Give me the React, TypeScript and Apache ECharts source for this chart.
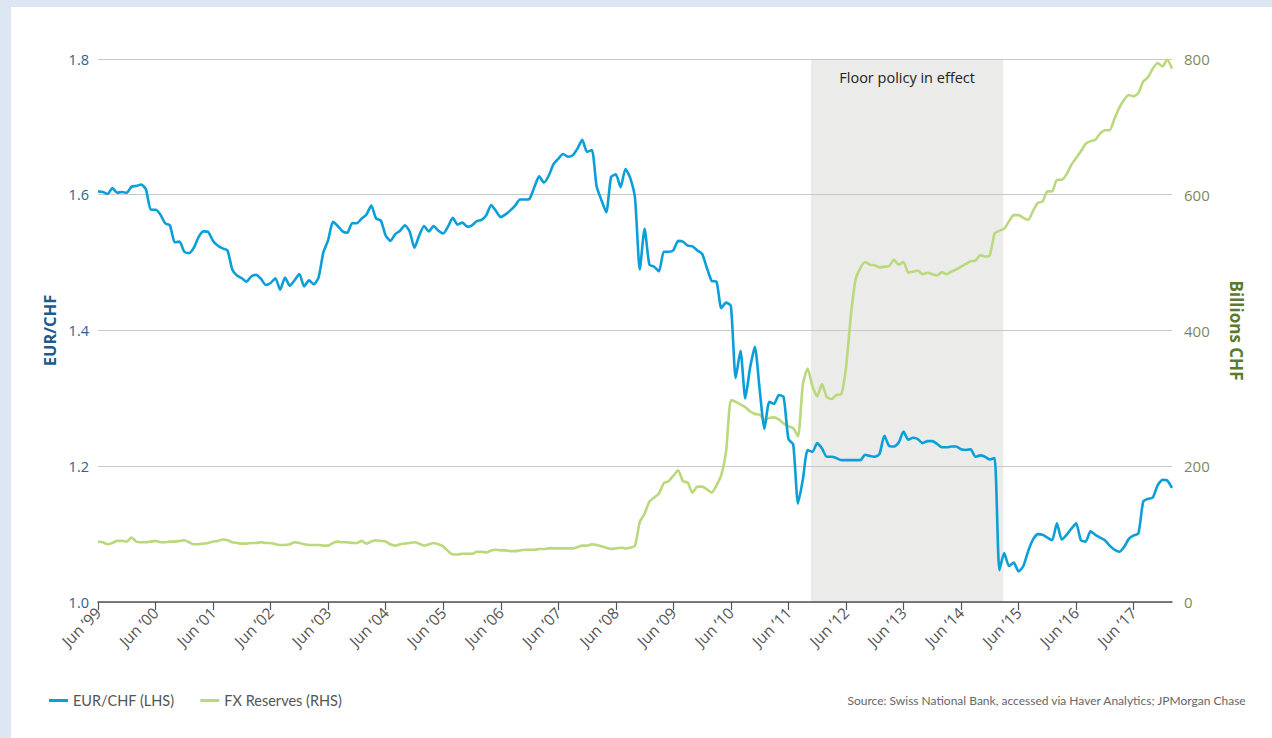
import React, { useEffect, useRef } from "react";
import * as echarts from "echarts";

// Month index 0 = Jun 1999, 224 = Jan 2018 (monthly)
const startYear = 1999;
const tickMonths = [0, 12, 24, 36, 48, 60, 72, 84, 96, 108, 120, 132, 144, 156, 168, 180, 192, 204, 216];

const eurChf = [
  1.605, 1.604, 1.601, 1.610, 1.603, 1.604, 1.603, 1.612, 1.613, 1.615,
  1.608, 1.578, 1.578, 1.571, 1.558, 1.555, 1.530, 1.531, 1.516, 1.514,
  1.522, 1.538, 1.546, 1.545, 1.532, 1.525, 1.521, 1.518, 1.490, 1.481,
  1.477, 1.472, 1.480, 1.482, 1.476, 1.467, 1.470, 1.477, 1.460, 1.478,
  1.466, 1.474, 1.483, 1.465, 1.474, 1.468, 1.478, 1.515, 1.533, 1.560,
  1.554, 1.546, 1.544, 1.558, 1.558, 1.565, 1.571, 1.584, 1.565, 1.562,
  1.540, 1.532, 1.542, 1.547, 1.555, 1.546, 1.522, 1.540, 1.554, 1.546,
  1.554, 1.547, 1.543, 1.553, 1.566, 1.556, 1.559, 1.553, 1.555, 1.561,
  1.563, 1.570, 1.585, 1.576, 1.567, 1.571, 1.577, 1.584, 1.593, 1.593,
  1.594, 1.611, 1.627, 1.618, 1.628, 1.645, 1.653, 1.660, 1.656, 1.658,
  1.668, 1.681, 1.663, 1.666, 1.612, 1.592, 1.574, 1.626, 1.630, 1.611,
  1.638, 1.625, 1.595, 1.490, 1.550, 1.497, 1.494, 1.487, 1.516, 1.516,
  1.518, 1.532, 1.531, 1.525, 1.524, 1.518, 1.513, 1.492, 1.473, 1.472,
  1.433, 1.441, 1.436, 1.330, 1.370, 1.300, 1.345, 1.376, 1.313, 1.255,
  1.295, 1.292, 1.305, 1.302, 1.240, 1.232, 1.145, 1.180, 1.224, 1.221,
  1.234, 1.226, 1.214, 1.214, 1.212, 1.209, 1.209, 1.209, 1.209, 1.209,
  1.217, 1.215, 1.214, 1.218, 1.245, 1.230, 1.229, 1.235, 1.251, 1.239,
  1.242, 1.240, 1.234, 1.237, 1.237, 1.233, 1.228, 1.228, 1.229, 1.229,
  1.225, 1.224, 1.225, 1.214, 1.216, 1.214, 1.210, 1.212, 1.047, 1.072,
  1.053, 1.058, 1.045, 1.053, 1.075, 1.092, 1.100, 1.099, 1.095, 1.091,
  1.116, 1.092, 1.099, 1.108, 1.116, 1.091, 1.089, 1.104, 1.099, 1.095,
  1.091, 1.083, 1.077, 1.074, 1.081, 1.093, 1.098, 1.101, 1.148, 1.152,
  1.154, 1.172, 1.180, 1.179, 1.168,
];

const fxReserves = [
  89, 88, 85, 87, 90, 90, 89, 95, 89, 88,
  88, 89, 90, 88, 88, 89, 89, 90, 91, 88,
  85, 85, 86, 87, 89, 90, 92, 91, 88, 87,
  86, 86, 87, 87, 88, 87, 87, 85, 84, 84,
  85, 88, 87, 85, 84, 84, 84, 83, 83, 87,
  89, 88, 88, 87, 87, 90, 86, 89, 91, 90,
  89, 85, 83, 85, 86, 87, 88, 86, 83, 85,
  87, 85, 82, 75, 70, 70, 71, 71, 71, 74,
  74, 73, 76, 77, 76, 76, 75, 75, 76, 77,
  77, 77, 78, 78, 79, 79, 79, 79, 79, 79,
  81, 83, 83, 85, 84, 82, 80, 78, 79, 80,
  79, 80, 83, 118, 130, 148, 154, 160, 175, 178,
  186, 194, 178, 176, 161, 170, 170, 166, 161, 172,
  187, 222, 297, 295, 291, 287, 281, 277, 276, 268,
  271, 272, 269, 263, 259, 256, 244, 320, 344, 318,
  303, 321, 302, 299, 305, 306, 345, 420, 475, 492,
  501, 497, 496, 493, 494, 495, 504, 497, 501, 485,
  487, 488, 483, 485, 483, 481, 486, 483, 487, 490,
  494, 498, 502, 503, 511, 509, 511, 543, 547, 550,
  561, 570, 570, 566, 563, 576, 588, 590, 605, 605,
  622, 622, 630, 644, 654, 664, 675, 679, 681, 690,
  695, 695, 712, 728, 740, 747, 745, 750, 767, 773,
  786, 794, 789, 799, 786,
];

const floorStart = 148.7; // Sep 2011
const floorEnd = 188.8; // Jan 2015

const BLUE = "#0a9fd9";
const GREEN = "#bad87c";
const FONT = "Lato, 'Open Sans', sans-serif";
const FONT2 = "'Open Sans', Lato, sans-serif";

export default function App() {
  const ref = useRef<HTMLDivElement>(null);

  useEffect(() => {
    if (!ref.current) return;
    const chart = echarts.init(ref.current, null, { renderer: "svg" });
    const blueData = eurChf.map((v, i) => [i, v]);
    const greenData = fxReserves.map((v, i) => [i, v]);

    chart.setOption({
      animation: false,
      backgroundColor: "transparent",
      textStyle: { fontFamily: FONT },
      grid: { left: 98, right: 100, top: 59, bottom: 136, containLabel: false },
      legend: {
        left: 44,
        top: 688,
        itemWidth: 19,
        itemHeight: 3,
        itemGap: 26,
        icon: "rect",
        textStyle: { color: "#555", fontSize: 14.5, fontFamily: FONT },
        data: [
          { name: "EUR/CHF (LHS)", itemStyle: { color: BLUE } },
          { name: "FX Reserves (RHS)", itemStyle: { color: GREEN } },
        ],
      },
      xAxis: {
        type: "value",
        min: 0,
        max: 224,
        interval: 12,
        splitLine: { show: false },
        axisLine: { show: true, lineStyle: { color: "#555", width: 1.5 } },
        axisTick: {
          show: true,
          length: 8,
          lineStyle: { color: "#555", width: 1.2 },
          customValues: tickMonths,
        },
        axisLabel: {
          rotate: 45,
          color: "#555",
          fontSize: 15.5,
          fontFamily: FONT2,
          margin: 8,
          customValues: tickMonths,
          formatter: (v: number) => {
            const y = startYear + Math.round(v / 12);
            return "Jun \u2019" + String(y % 100).padStart(2, "0");
          },
        },
      },
      yAxis: [
        {
          type: "value",
          min: 1.0,
          max: 1.8,
          interval: 0.2,
          position: "left",
          name: "EUR/CHF",
          nameLocation: "middle",
          nameGap: 40,
          nameRotate: 90,
          nameTextStyle: { color: "#1d5a8f", fontSize: 16.5, fontWeight: "bold", fontFamily: FONT2 },
          axisLine: { show: false },
          axisTick: { show: false },
          axisLabel: {
            color: "#2b6296",
            fontSize: 14.5,
            fontFamily: FONT2,
            margin: 9,
            formatter: (v: number) => v.toFixed(1),
          },
          splitLine: { show: true, lineStyle: { color: "#c9c9c9", width: 1.2 } },
        },
        {
          type: "value",
          min: 0,
          max: 800,
          interval: 200,
          position: "right",
          name: "Billions CHF",
          nameLocation: "middle",
          nameGap: 56,
          nameRotate: -90,
          nameTextStyle: { color: "#5b7a2e", fontSize: 17, fontWeight: "bold", fontFamily: FONT2 },
          axisLine: { show: false },
          axisTick: { show: false },
          axisLabel: { color: "#7a8b5a", fontSize: 15, fontFamily: FONT2, margin: 12 },
          splitLine: { show: false },
        },
      ],
      graphic: [
        {
          type: "text",
          right: 25,
          top: 694,
          style: {
            text: "Source: Swiss National Bank, accessed via Haver Analytics; JPMorgan Chase",
            fill: "#666",
            fontSize: 12,
            fontFamily: FONT,
          },
        },
      ],
      series: [
        {
          name: "EUR/CHF (LHS)",
          type: "line",
          yAxisIndex: 0,
          data: blueData,
          showSymbol: false,
          smooth: 0.2,
          z: 3,
          lineStyle: { color: BLUE, width: 2.6 },
          itemStyle: { color: BLUE },
          markArea: {
            silent: true,
            itemStyle: { color: "#ebebe9" },
            label: {
              show: true,
              position: "insideTop",
              distance: 11,
              color: "#222",
              fontSize: 14.5,
              fontFamily: FONT2,
            },
            data: [[{ name: "Floor policy in effect", xAxis: floorStart }, { xAxis: floorEnd }]],
            z: -1,
          },
        },
        {
          name: "FX Reserves (RHS)",
          type: "line",
          yAxisIndex: 1,
          data: greenData,
          showSymbol: false,
          smooth: 0.2,
          z: 2,
          lineStyle: { color: GREEN, width: 2.6 },
          itemStyle: { color: GREEN },
        },
      ],
    });
    return () => chart.dispose();
  }, []);

  return (
    <div style={{ position: "fixed", left: 0, top: 0, width: 1272, height: 738, background: "#dde7f4" }}>
      <div style={{ position: "absolute", left: 11, top: 7, right: 0, bottom: 0, background: "#ffffff" }} />
      <div ref={ref} style={{ position: "absolute", left: 0, top: 0, width: 1272, height: 738 }} />
    </div>
  );
}
